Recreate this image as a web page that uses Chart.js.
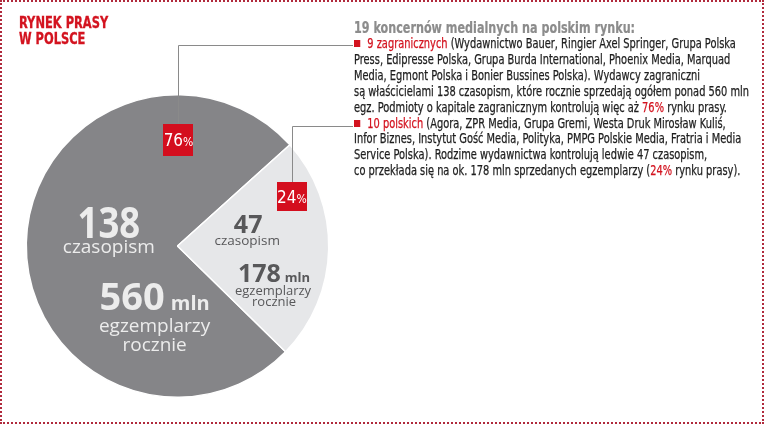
<!DOCTYPE html>
<html lang="pl">
<head>
<meta charset="utf-8">
<script src="https://cdn.jsdelivr.net/npm/chart.js@4.4.1/dist/chart.umd.min.js"></script>
<style>
  html, body { margin: 0; padding: 0; background: #fff; }
  #wrap { position: relative; width: 764px; height: 424px; overflow: hidden; background: #fff; }
  #frame { position: absolute; left: 0; top: 0; width: 764px; height: 424px; box-sizing: border-box;
           border: 2px dotted #b02a3c; pointer-events: none; }
  canvas { position: absolute; left: 0; top: 0; }
  .narrow { font-family: "Liberation Sans Narrow", "DejaVu Sans Condensed", Roboto, sans-serif; }
  #title { position: absolute; left: 19px; top: 15px; color: #d3131f; font-weight: bold; font-size: 15px;
           line-height: 16px; white-space: nowrap; transform-origin: 0 0; -webkit-text-stroke: 0.3px #d3131f; }
  #head { position: absolute; left: 354px; top: 19px; color: #8c8c8c; font-weight: bold; font-size: 15px;
          line-height: 18px; white-space: nowrap; transform-origin: 0 0; -webkit-text-stroke: 0.2px #8c8c8c; }
  #body { position: absolute; left: 354px; top: 36px; color: #1e1e1e; font-size: 14px; line-height: 15.9px;
          white-space: nowrap; transform-origin: 0 0; -webkit-text-stroke: 0.25px currentColor; }
  .red { color: #d3131f; }
  .sq { display: inline-block; width: 8px; height: 7px; background: #d3131f; margin-right: 9px; vertical-align: 1px; }
</style>
</head>
<body>
<div id="wrap">
  <canvas id="c" width="764" height="424"></canvas>
  <div id="title" class="narrow">RYNEK PRASY<br>W POLSCE</div>
  <div id="head" class="narrow">19 koncernów medialnych na polskim rynku:</div>
  <div id="body" class="narrow">
    <div><span class="sq"></span><span class="red">9 zagranicznych</span> (Wydawnictwo Bauer, Ringier Axel Springer, Grupa Polska</div>
    <div>Press, Edipresse Polska, Grupa Burda International, Phoenix Media, Marquad</div>
    <div>Media, Egmont Polska i Bonier Bussines Polska). Wydawcy zagraniczni</div>
    <div>są właścicielami 138 czasopism, które rocznie sprzedają ogółem ponad 560 mln</div>
    <div>egz. Podmioty o kapitale zagranicznym kontrolują więc aż <span class="red">76%</span> rynku prasy.</div>
    <div><span class="sq"></span><span class="red">10 polskich</span> (Agora, ZPR Media, Grupa Gremi, Westa Druk Mirosław Kuliś,</div>
    <div>Infor Biznes, Instytut Gość Media, Polityka, PMPG Polskie Media, Fratria i Media</div>
    <div>Service Polska). Rodzime wydawnictwa kontrolują ledwie 47 czasopism,</div>
    <div>co przekłada się na ok. 178 mln sprzedanych egzemplarzy (<span class="red">24%</span> rynku prasy).</div>
  </div>
  <div id="frame"></div>
</div>
<script>
const segments = ["Wydawcy zagraniczni", "Wydawcy polscy"];
const shares = [76, 24];
const magazines = [138, 47];
const copiesMln = [560, 178];

// squeeze the text blocks to the widths they have in the print layout
function fit(id, w) {
  const el = document.getElementById(id);
  el.style.transform = "scaleX(" + (w / el.offsetWidth) + ")";
}
fit("title", 89);
fit("head", 281);
fit("body", 395);

function txt(ctx, s, x, y, font, color, sx, align) {
  ctx.save();
  ctx.translate(x, y);
  ctx.scale(sx || 1, 1);
  ctx.font = font;
  ctx.fillStyle = color;
  ctx.textAlign = align || "center";
  ctx.textBaseline = "alphabetic";
  ctx.fillText(s, 0, 0);
  ctx.restore();
}

// big number + small "mln" on one baseline, centred as a group
function numMln(ctx, n, x, y, bigFont, smallFont, color, gap) {
  ctx.font = bigFont;
  const w1 = ctx.measureText(n).width;
  ctx.font = smallFont;
  const w2 = ctx.measureText("mln").width;
  const left = x - (w1 + gap + w2) / 2;
  txt(ctx, n, left, y, bigFont, color, 1, "left");
  txt(ctx, "mln", left + w1 + gap, y, smallFont, color, 1, "left");
}

function pctBox(ctx, v, x, y, w, h, lineY, textX) {
  ctx.strokeStyle = "#8a8a8a";
  ctx.lineWidth = 1;
  ctx.beginPath();
  const lx = Math.round(x) + 0.5;
  ctx.moveTo(lx, y - h / 2);
  ctx.lineTo(lx, lineY + 0.5);
  ctx.lineTo(textX, lineY + 0.5);
  ctx.stroke();
  ctx.fillStyle = "#d40e1e";
  ctx.fillRect(Math.round(x - w / 2), Math.round(y - h / 2), w, h);
  const f1 = "17px 'Liberation Sans Narrow', 'DejaVu Sans Condensed', sans-serif";
  const f2 = "12px 'Liberation Sans Narrow', 'DejaVu Sans Condensed', sans-serif";
  ctx.font = f1;
  const a = ctx.measureText(String(v)).width;
  ctx.font = f2;
  const b = ctx.measureText("%").width;
  const left = x - (a + b) / 2;
  txt(ctx, String(v), left, y + 6, f1, "#fff", 1, "left");
  txt(ctx, "%", left + a, y + 6, f2, "#fff", 1, "left");
}

const pieText = {
  id: "pieText",
  afterDatasetsDraw(chart) {
    const ctx = chart.ctx;
    const arc = chart.getDatasetMeta(0).data[0];
    const cx = arc.x, cy = arc.y, k = arc.outerRadius / 152;
    const X = d => cx + d * k, Y = d => cy + d * k;
    const light = "#ececec", dark = "#58585a";
    const OS = "'Open Sans', 'Noto Sans', sans-serif";

    // foreign publishers (dark slice)
    txt(ctx, String(magazines[0]), X(-69), Y(-8), "bold 43px " + OS, light, 0.85);
    txt(ctx, "czasopism", X(-69), Y(7), "19px " + OS, light);
    numMln(ctx, String(copiesMln[0]), X(-23), Y(64), "bold 38px " + OS, "bold 20px " + OS, light, 6);
    txt(ctx, "egzemplarzy", X(-23), Y(86), "19px " + OS, light);
    txt(ctx, "rocznie", X(-23), Y(106), "19px " + OS, light);

    // Polish publishers (light slice)
    txt(ctx, String(magazines[1]), X(71), Y(-13), "bold 25px " + OS, dark);
    txt(ctx, "czasopism", X(70), Y(-1), "13.5px " + OS, dark);
    numMln(ctx, String(copiesMln[1]), X(97), Y(36), "bold 25px " + OS, "bold 13px " + OS, dark, 4);
    txt(ctx, "egzemplarzy", X(96), Y(49), "13px " + OS, dark);
    txt(ctx, "rocznie", X(97), Y(60), "13px " + OS, dark);

    // share boxes with leader lines to the text column
    pctBox(ctx, shares[0], X(1), Y(-107), 30, 32, 45, 353);
    pctBox(ctx, shares[1], X(115), Y(-49.5), 30, 29, 126, 353);
  }
};

const total = shares[0] + shares[1];
new Chart(document.getElementById("c"), {
  type: "pie",
  data: {
    labels: segments,
    datasets: [{
      data: shares,
      backgroundColor: ["#858588", "#e6e7e9"],
      borderColor: "#ffffff",
      borderWidth: 1.5
    }]
  },
  options: {
    responsive: false,
    animation: false,
    rotation: 48 + 360 * shares[1] / total,
    layout: { padding: { left: 25, top: 94, right: 434, bottom: 26 } },
    plugins: { legend: { display: false }, tooltip: { enabled: false } }
  },
  plugins: [pieText]
});
</script>
</body>
</html>
